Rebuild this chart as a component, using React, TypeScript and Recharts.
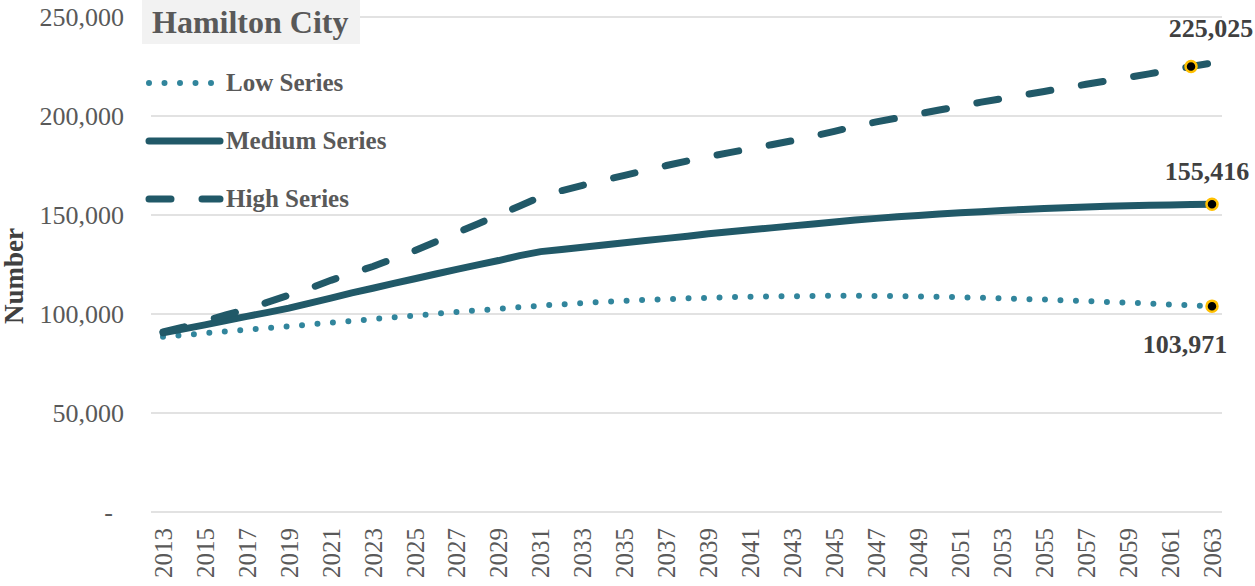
import React from 'react';
import { LineChart, Line, XAxis, YAxis, CartesianGrid, Legend } from 'recharts';

const years = [
  2013, 2014, 2015, 2016, 2017, 2018, 2019, 2020, 2021, 2022,
  2023, 2024, 2025, 2026, 2027, 2028, 2029, 2030, 2031, 2032,
  2033, 2034, 2035, 2036, 2037, 2038, 2039, 2040, 2041, 2042,
  2043, 2044, 2045, 2046, 2047, 2048, 2049, 2050, 2051, 2052,
  2053, 2054, 2055, 2056, 2057, 2058, 2059, 2060, 2061, 2062,
  2063,
];

const lowSeries = [
  88500, 89400, 90300, 91200, 92000, 92900, 93800, 94700, 95600, 96500,
  97400, 98300, 99200, 100100, 101000, 101800, 102600, 103400, 104200, 104900,
  105500, 106100, 106600, 107100, 107500, 107900, 108200, 108500, 108700, 108900,
  109000, 109100, 109200, 109200, 109100, 109000, 108900, 108700, 108500, 108200,
  107900, 107600, 107300, 106900, 106500, 106100, 105700, 105300, 104800, 104400,
  103971,
];

const mediumSeries = [
  90500, 92500, 94500, 96700, 98800, 100800, 103000, 105500, 108000, 110700,
  113000, 115500, 117800, 120200, 122500, 124800, 127000, 129500, 131500, 132600,
  133700, 134800, 136000, 137100, 138200, 139300, 140500, 141500, 142500, 143500,
  144500, 145500, 146500, 147500, 148300, 149100, 149800, 150500, 151100, 151700,
  152300, 152800, 153300, 153700, 154100, 154400, 154700, 154900, 155100, 155300,
  155416,
];

const highSeries = [
  91000, 93500, 96500, 99500, 102500, 106000, 109500, 113000, 117000, 120500,
  124000, 128000, 132000, 136500, 141000, 145500, 150000, 154500, 159200, 162300,
  165000, 167600, 170000, 172500, 175000, 177300, 179500, 181500, 183500, 185500,
  187500, 189800, 192200, 194800, 197000, 199000, 201000, 203000, 205000, 207000,
  208800, 210600, 212400, 214200, 216000, 217800, 219500, 221300, 223200, 225025,
  226800,
];

const yTicks = [0, 50000, 100000, 150000, 200000, 250000];

const data = years.map((year, i) => ({
  year,
  low: lowSeries[i],
  medium: mediumSeries[i],
  high: highSeries[i],
}));

const FONT = "'Liberation Serif', 'Times New Roman', serif";
const DARK = '#215968';
const AQUA = '#31859c';

const series = [
  { key: 'low', name: 'Low Series', color: AQUA, width: 6, dash: '0 15.5', markYear: 2063, dx: -27, dy: 38 },
  { key: 'medium', name: 'Medium Series', color: DARK, width: 7, dash: undefined, markYear: 2063, dx: -5, dy: -33 },
  { key: 'high', name: 'High Series', color: DARK, width: 7, dash: '22 31', markYear: 2062, dx: 20, dy: -39 },
];

const fmt = (v: number) => v.toLocaleString('en-US');

const YTick = ({ x, y, payload }: any) => (
  <text
    x={payload.value === 0 ? x - 11 : x}
    y={y}
    dy="0.35em"
    textAnchor="end"
    fill="#595959"
    fontSize={26}
    fontFamily={FONT}
  >
    {payload.value === 0 ? '-' : fmt(payload.value)}
  </text>
);

const XTick = ({ x, y, payload }: any) => (
  <text
    transform={`translate(${x},${y}) rotate(-90)`}
    dy="0.35em"
    textAnchor="end"
    fill="#595959"
    fontSize={25}
    fontFamily={FONT}
  >
    {payload.value}
  </text>
);

const YTitle = () => (
  <text
    transform="translate(14,276) rotate(-90)"
    dy="0.35em"
    textAnchor="middle"
    fill="#404040"
    fontSize={27}
    fontWeight="bold"
    fontFamily={FONT}
  >
    Number
  </text>
);

// marker + value label only on the highlighted year of each series
const makeDot = (s: typeof series[number]) => (props: any) => {
  const { cx, cy, payload, index } = props;
  if (payload.year !== s.markYear) return <g key={`${s.key}-${index}`} />;
  return (
    <g key={`${s.key}-${index}`}>
      <circle cx={cx} cy={cy} r={5.5} fill="#000" stroke="#ffc000" strokeWidth={2.5} />
      <text
        x={cx + s.dx}
        y={cy + s.dy}
        dy="0.35em"
        textAnchor="middle"
        fill="#404040"
        fontSize={26}
        fontWeight="bold"
        fontFamily={FONT}
      >
        {fmt(payload[s.key])}
      </text>
    </g>
  );
};

const LegendBox = () => (
  <div>
    {series.map((s) => (
      <div key={s.key} style={{ display: 'flex', alignItems: 'center', height: 58 }}>
        <svg width={82} height={20}>
          <line
            x1={5}
            y1={10}
            x2={76}
            y2={10}
            stroke={s.color}
            strokeWidth={s.width}
            strokeDasharray={s.dash}
            strokeLinecap="round"
          />
        </svg>
        <span style={{ fontFamily: FONT, fontWeight: 'bold', fontSize: 25, color: '#595959' }}>{s.name}</span>
      </div>
    ))}
  </div>
);

export default function App() {
  return (
    <div style={{ position: 'absolute', left: 0, top: 0, width: 1255, height: 586, background: '#fff' }}>
      <LineChart width={1255} height={586} data={data} margin={{ top: 17, right: 33, bottom: 0, left: 0 }}>
        <CartesianGrid horizontal vertical={false} stroke="#d9d9d9" strokeWidth={1.3} />
        <XAxis
          dataKey="year"
          height={74}
          interval={1}
          axisLine={false}
          tickLine={false}
          tickSize={0}
          tickMargin={16}
          padding={{ left: 12, right: 10 }}
          tick={<XTick />}
        />
        <YAxis
          width={151}
          domain={[0, 250000]}
          ticks={yTicks}
          axisLine={false}
          tickLine={false}
          tickSize={0}
          tickMargin={27}
          tick={<YTick />}
          label={<YTitle />}
        />
        <Legend
          layout="vertical"
          align="center"
          verticalAlign="middle"
          content={<LegendBox />}
          wrapperStyle={{ position: 'absolute', left: 144, top: 54, width: 270 }}
        />
        {series.map((s) => (
          <Line
            key={s.key}
            type="linear"
            dataKey={s.key}
            name={s.name}
            stroke={s.color}
            strokeWidth={s.width}
            strokeDasharray={s.dash}
            strokeLinecap="round"
            dot={makeDot(s)}
            activeDot={false}
            isAnimationActive={false}
          />
        ))}
      </LineChart>
      <div
        style={{
          position: 'absolute',
          left: 142,
          top: 0,
          width: 218,
          height: 44,
          background: '#f2f2f2',
          paddingLeft: 10,
          boxSizing: 'border-box',
          fontFamily: FONT,
          fontWeight: 'bold',
          fontSize: 32,
          lineHeight: '44px',
          color: '#595959',
          whiteSpace: 'nowrap',
        }}
      >
        Hamilton City
      </div>
    </div>
  );
}
